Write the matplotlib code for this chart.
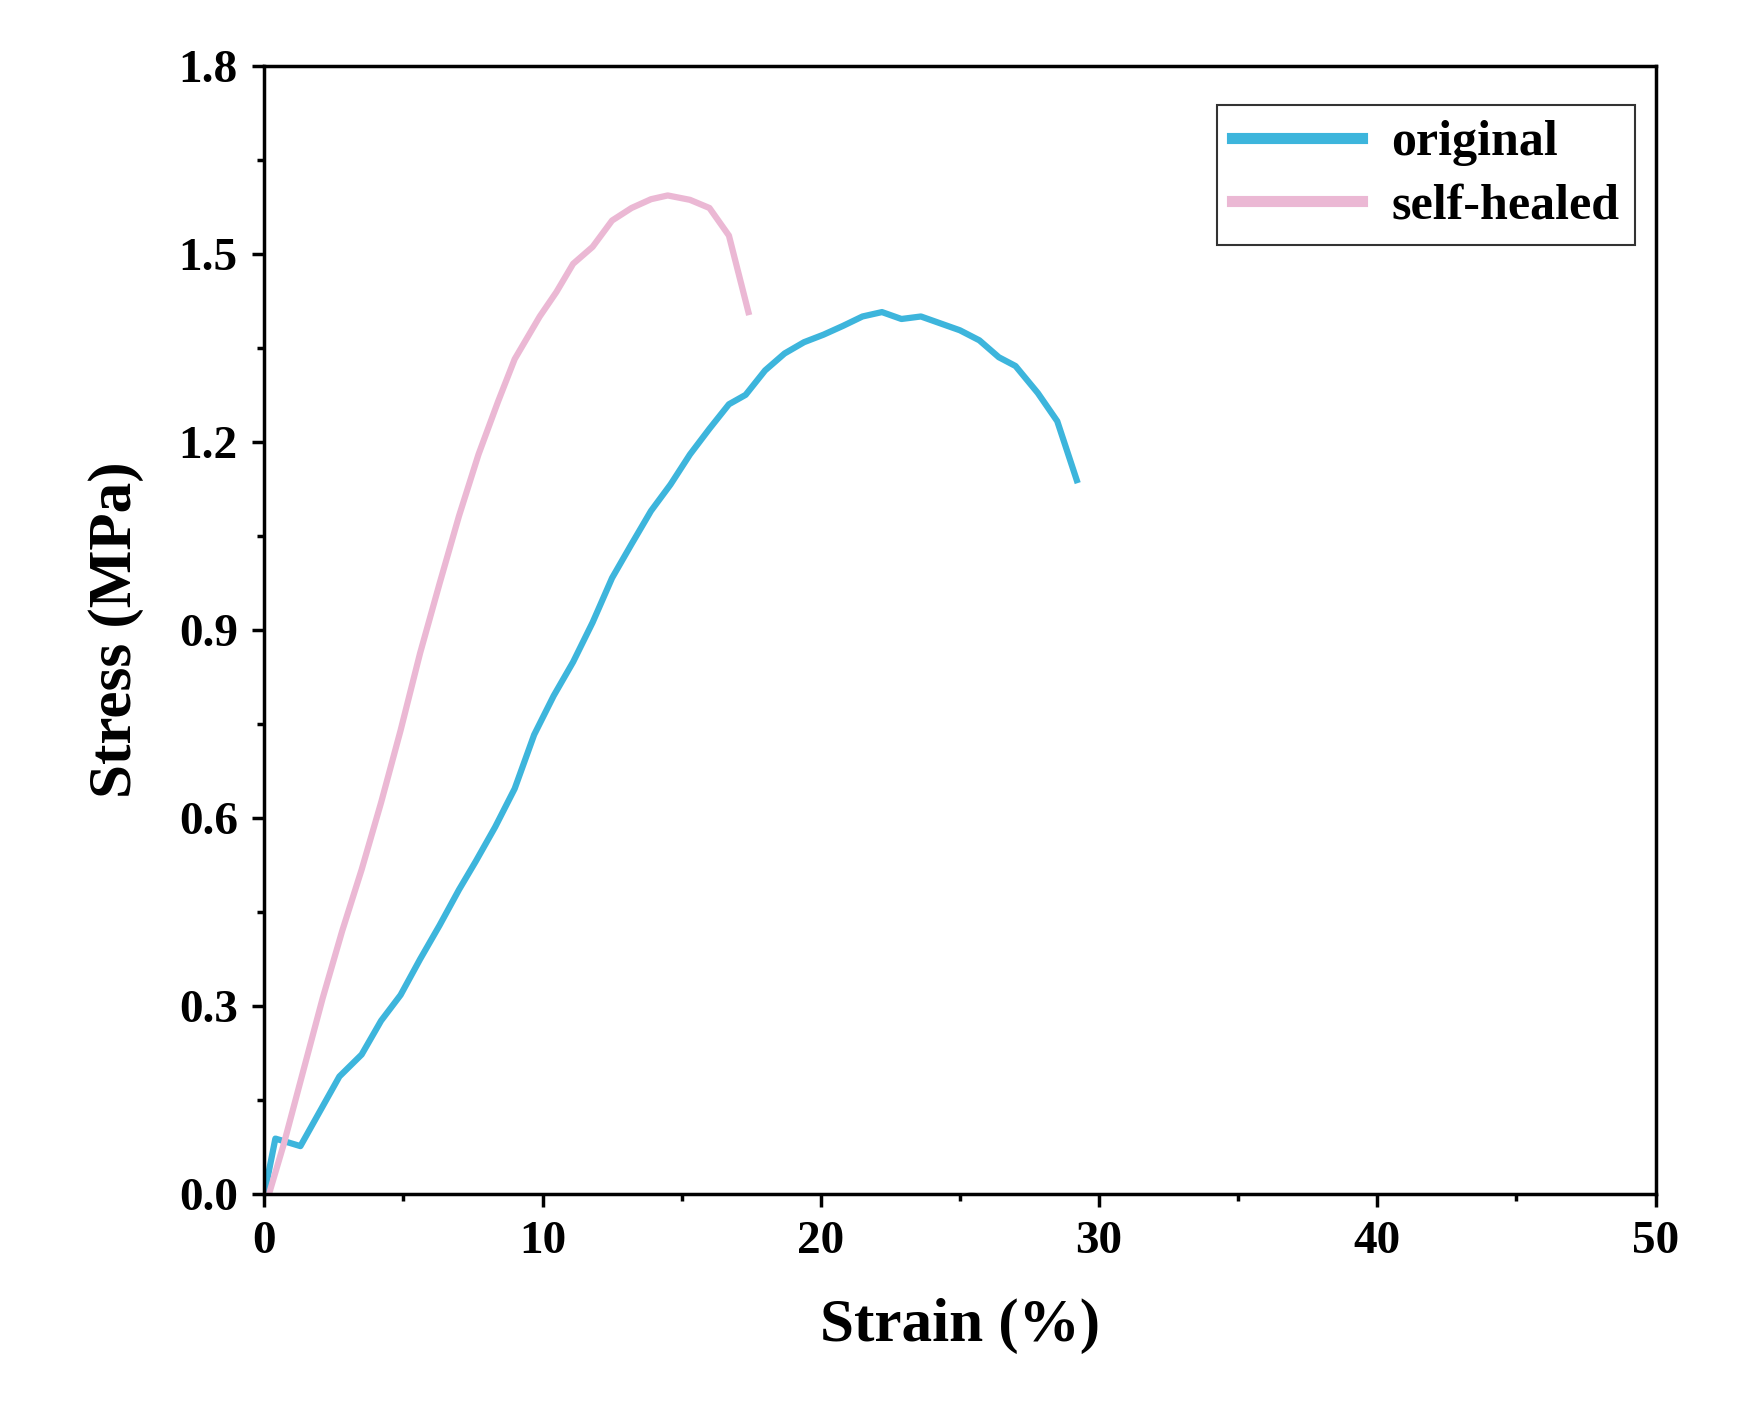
import matplotlib
matplotlib.use("Agg")
import matplotlib.pyplot as plt
from matplotlib.ticker import MultipleLocator

orig_x = [0,0.4,1.3,2.7,3.5,4.2,4.9,5.6,6.3,7.0,7.6,8.3,9.0,9.7,10.4,11.1,11.8,12.5,13.2,13.9,14.6,15.3,16.0,16.7,17.3,18.0,18.7,19.4,20.1,20.8,21.5,22.2,22.9,23.6,24.3,25.0,25.7,26.4,27.0,27.8,28.5,29.2]
orig_y = [0,0.089,0.077,0.188,0.223,0.277,0.318,0.375,0.429,0.486,0.531,0.586,0.647,0.733,0.795,0.849,0.912,0.983,1.037,1.090,1.132,1.180,1.221,1.260,1.275,1.314,1.341,1.359,1.371,1.385,1.400,1.407,1.396,1.400,1.389,1.378,1.362,1.335,1.321,1.278,1.233,1.139]
heal_x = [0.2,0.7,1.3,2.1,2.8,3.5,4.2,4.9,5.6,6.3,7.0,7.7,8.4,9.0,9.9,10.5,11.1,11.8,12.5,13.2,13.9,14.5,15.3,16.0,16.7,17.4]
heal_y = [0.005,0.08,0.18,0.313,0.42,0.518,0.625,0.74,0.863,0.974,1.082,1.18,1.264,1.332,1.4,1.439,1.484,1.511,1.553,1.573,1.587,1.593,1.586,1.573,1.529,1.407]

plt.rcParams["font.family"] = "Liberation Serif"
plt.rcParams["font.weight"] = "bold"
fig = plt.figure(figsize=(17.5, 14.27), dpi=100)
ax = fig.add_axes([0.151, 0.163, 0.795, 0.791])
ax.plot(orig_x, orig_y, color="#3db5dc", lw=4.5, label="original")
ax.plot(heal_x, heal_y, color="#ebb8d4", lw=4.5, label="self-healed")
ax.set_xlim(0, 50)
ax.set_ylim(0, 1.8)
ax.xaxis.set_major_locator(MultipleLocator(10))
ax.xaxis.set_minor_locator(MultipleLocator(5))
ax.yaxis.set_major_locator(MultipleLocator(0.3))
ax.yaxis.set_minor_locator(MultipleLocator(0.15))
ax.yaxis.set_major_formatter(matplotlib.ticker.FormatStrFormatter("%.1f"))
ax.tick_params(which="major", direction="out", length=9, width=2.5, labelsize=34, pad=10)
ax.tick_params(which="minor", direction="out", length=5, width=2.5)
for s in ax.spines.values():
    s.set_linewidth(2.5)
for lab in ax.get_xticklabels() + ax.get_yticklabels():
    lab.set_fontweight("bold")
ax.set_xlabel("Strain (%)", fontsize=44, fontweight="bold", labelpad=25)
ax.set_ylabel("Stress (MPa)", fontsize=44, fontweight="bold", labelpad=25)
leg = ax.legend(loc="upper right", bbox_to_anchor=(0.985, 0.965), fontsize=36, frameon=True,
                fancybox=False, edgecolor="black", handlelength=2.6, handletextpad=0.6,
                borderpad=0.3, borderaxespad=0.0, labelspacing=0.35)
leg.get_frame().set_linewidth(1.5)
for l in leg.get_lines():
    l.set_linewidth(8)
fig.savefig("out.png", dpi=100)
